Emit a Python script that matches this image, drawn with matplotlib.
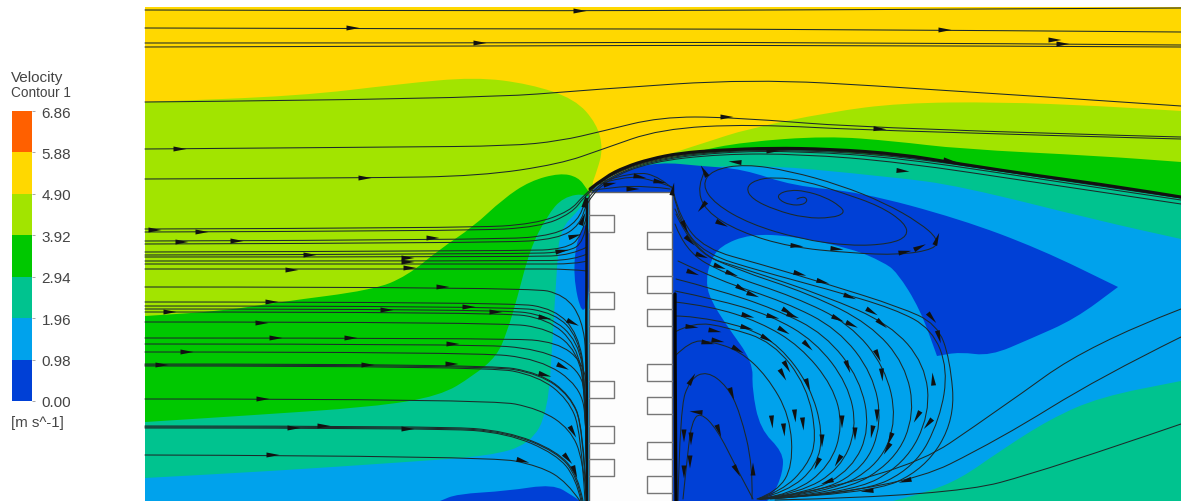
import numpy as np
import matplotlib
matplotlib.use("Agg")
import matplotlib.pyplot as plt
from matplotlib.colors import ListedColormap, BoundaryNorm
from matplotlib.path import Path
from matplotlib.patches import PathPatch, Rectangle

plt.rcParams["font.family"] = ["Liberation Sans", "DejaVu Sans"]

# legend
levels = [0.00, 0.98, 1.96, 2.94, 3.92, 4.90, 5.88, 6.86]
band_colors = ["#0040D6", "#00A2EC", "#00C38F", "#00C800", "#A2E400", "#FFD800", "#FF6000"]
DARK, LIGHT, TEAL, GREEN, LIME, YELLOW, ORANGE = band_colors

# contour bands, outlines (x, y in image pixels), drawn back to front
lime_left = [(145, 103), (300, 97), (400, 85), (475, 78), (530, 85), (575, 100), (597, 125), (603, 150),
             (597, 172), (590, 190), (600, 330), (145, 340)]
lime_right = [(593, 187), (627, 170), (660, 158), (707, 143), (747, 130), (830, 113), (900, 104), (1000, 103),
              (1100, 107), (1181, 112), (1181, 300), (640, 300)]
green_left = [(145, 317), (223, 312), (280, 303), (373, 291), (407, 277), (440, 250), (473, 228), (503, 200),
              (530, 182), (560, 174), (578, 178), (587, 190), (600, 210), (600, 502), (145, 502)]
green_right = [(630, 172), (693, 153), (743, 143), (827, 137), (893, 142), (960, 150), (1100, 157), (1181, 163),
               (1181, 260), (640, 260)]
teal_left = [(145, 423), (240, 417), (373, 408), (440, 397), (473, 377), (497, 357), (507, 333), (517, 300),
             (530, 250), (547, 217), (563, 198), (588, 194), (600, 210), (600, 502), (145, 502)]
teal_right = [(590, 190), (627, 170), (670, 158), (727, 152), (793, 149), (860, 155), (927, 160), (960, 165),
              (1040, 177), (1120, 188), (1181, 198), (1181, 260), (640, 260)]
light_left = [(145, 479), (273, 472), (407, 463), (490, 457), (530, 445), (548, 413), (553, 333), (557, 267),
              (560, 230), (580, 210), (588, 198), (600, 210), (600, 502), (145, 502)]
light_right = [(640, 180), (733, 163), (893, 178), (960, 187), (1100, 222), (1181, 240), (1181, 502), (640, 502)]
dark_sliver = [(590, 218), (577, 238), (573, 277), (582, 318), (590, 296)]
dark_bottom = [(440, 502), (457, 495), (507, 492), (553, 485), (573, 497), (580, 502)]
dark_right = [(592, 195), (592, 190), (620, 172), (660, 163), (700, 167), (743, 170), (793, 187), (860, 193),
              (960, 220), (1040, 250), (1118, 288), (1075, 320), (1030, 340), (990, 357), (960, 353), (937, 357),
              (920, 310), (897, 273), (883, 263), (853, 250), (793, 237), (750, 235), (720, 247), (710, 263),
              (706, 282), (710, 300), (727, 327), (753, 363), (752, 390), (760, 430), (783, 453), (783, 473),
              (773, 497), (767, 502), (660, 502), (660, 195)]
teal_low = [(893, 502), (927, 493), (960, 480), (1000, 452), (1050, 420), (1100, 398), (1181, 382), (1181, 502)]
band_shapes = [(lime_left, LIME), (lime_right, LIME), (green_left, GREEN), (green_right, GREEN),
               (teal_left, TEAL), (teal_right, TEAL), (light_left, LIGHT), (light_right, LIGHT),
               (dark_sliver, DARK), (dark_bottom, DARK), (dark_right, DARK), (teal_low, TEAL)]
sharp_points = [(1118, 288), (593, 187), (937, 357), (145, 317), (145, 103)]

# building, window rows
building = (589, 193, 672, 502)
windows_left = [216, 293, 327, 382, 427, 460]
windows_right = [233, 277, 310, 365, 398, 443, 477]

# streamlines over the roof
streams_top = [
    [(145, 11), (500, 12), (800, 11), (1181, 9)],
    [(145, 29), (500, 30), (800, 30), (1181, 33)],
    [(145, 44), (480, 44), (800, 43), (1181, 46)],
    [(145, 48), (480, 47), (800, 46), (1181, 48)],
    [(145, 103), (475, 100), (600, 90), (750, 80), (900, 88), (1181, 107)],
    [(145, 150), (400, 148), (510, 147), (560, 142), (603, 132), (660, 118), (730, 118), (880, 130), (1181, 138)],
    [(145, 180), (365, 179), (480, 177), (560, 165), (603, 150), (660, 130), (750, 125), (880, 132), (1181, 140)],
    [(145, 230), (470, 229), (535, 225), (570, 212), (583, 197), (605, 178), (650, 160), (720, 151), (800, 150),
     (900, 156), (1040, 177), (1181, 198)],
    [(145, 233), (470, 232), (540, 228), (572, 214), (584, 198), (606, 178), (650, 161), (720, 152), (800, 151),
     (900, 157), (1040, 178), (1181, 199)],
    [(145, 242), (500, 241), (555, 236), (578, 222), (586, 200), (607, 179), (650, 162), (720, 153), (800, 152),
     (900, 159), (1040, 180), (1181, 201)],
    [(145, 245), (500, 244), (558, 240), (580, 226), (587, 202), (608, 180), (650, 163), (720, 155), (800, 155),
     (900, 163), (1040, 184), (1181, 205)],
    [(145, 253), (520, 252), (565, 250), (582, 238), (587, 215)],
    [(145, 256), (520, 255), (568, 253), (584, 243), (587, 222)],
    [(145, 258), (530, 258), (572, 256), (587, 248)],
    [(145, 262), (530, 262), (574, 261), (587, 255)],
    [(145, 265), (530, 265), (576, 265), (587, 262)],
    [(145, 270), (520, 270), (570, 270), (587, 272)],
]

# streamlines that run into the wall and turn down
streams_wall = [
    [(145, 288), (530, 288), (565, 296), (582, 320), (587, 360), (587, 502)],
    [(145, 303), (510, 303), (555, 310), (578, 335), (586, 380), (587, 502)],
    [(145, 307), (510, 307), (555, 314), (578, 338), (586, 385), (587, 502)],
    [(145, 310), (500, 310), (550, 317), (578, 342), (586, 388), (587, 502)],
    [(145, 313), (500, 313), (548, 320), (576, 345), (586, 392), (587, 502)],
    [(145, 323), (500, 323), (550, 330), (577, 352), (586, 395), (587, 502)],
    [(145, 339), (507, 339), (557, 343), (583, 363), (588, 395), (587, 502)],
    [(145, 345), (473, 345), (540, 350), (580, 370), (587, 405), (587, 502)],
    [(145, 353), (473, 353), (540, 360), (580, 387), (587, 425), (587, 502)],
    [(145, 365), (487, 365), (540, 374), (570, 396), (583, 427), (587, 502)],
    [(145, 366), (487, 366), (540, 375), (570, 397), (583, 428), (586, 502)],
    [(145, 367), (487, 367), (538, 377), (568, 400), (581, 432), (585, 502)],
    [(145, 400), (490, 400), (540, 410), (570, 430), (583, 460), (587, 502)],
    [(145, 427), (440, 427), (507, 432), (557, 452), (578, 476), (583, 502)],
    [(145, 428), (440, 428), (507, 433), (557, 453), (577, 477), (582, 502)],
    [(145, 429), (440, 429), (507, 434), (556, 455), (576, 479), (581, 502)],
    [(145, 456), (490, 457), (540, 467), (567, 483), (580, 502)],
]

# vortex behind the building
spiral = [(797, 200), (803, 197), (808, 201), (803, 206), (790, 206), (779, 201), (778, 195), (790, 191), (805, 192),
          (825, 198), (840, 207), (845, 214), (832, 219), (805, 219), (775, 211), (752, 200), (746, 189), (755, 181),
          (775, 178), (805, 182), (840, 193), (880, 207), (905, 224), (908, 237), (890, 245), (850, 247), (800, 240),
          (750, 225), (715, 205), (702, 186), (712, 171), (745, 165), (790, 172), (840, 186), (885, 204), (920, 224),
          (938, 240), (935, 250), (900, 256), (850, 254), (790, 248), (740, 233), (705, 212), (697, 187), (705, 172)]

# arcs leeward of the building, from the wall over the peak back to the stagnation point
streams_arc = [
    [(753, 500), (737, 470), (717, 430), (700, 413), (692, 423), (688, 450), (683, 500)],
    [(752, 500), (753, 467), (740, 413), (727, 387), (707, 372), (690, 380), (680, 410), (678, 502)],
    [(757, 500), (777, 493), (793, 467), (790, 417), (767, 377), (740, 352), (710, 342), (690, 342), (675, 357)],
    [(758, 500), (782, 492), (807, 467), (817, 440), (807, 387), (773, 343), (727, 328), (693, 323), (675, 333)],
    [(758, 500), (787, 493), (817, 467), (823, 433), (810, 387), (780, 347), (747, 328), (693, 317), (675, 317)],
    [(759, 500), (793, 495), (830, 467), (843, 427), (833, 387), (800, 347), (760, 323), (710, 307), (675, 303)],
    [(760, 500), (800, 494), (840, 470), (857, 430), (848, 385), (815, 342), (770, 316), (715, 300), (675, 292)],
    [(760, 500), (810, 494), (852, 470), (870, 430), (860, 380), (825, 335), (775, 310), (715, 290), (676, 280)],
    [(760, 500), (820, 494), (865, 468), (882, 425), (873, 375), (838, 330), (785, 303), (720, 282), (678, 262)],
    [(760, 500), (830, 494), (880, 465), (897, 420), (885, 368), (850, 325), (795, 298), (725, 275), (685, 252),
     (675, 225)],
    [(760, 500), (840, 495), (895, 462), (915, 415), (905, 365), (870, 325), (810, 295), (735, 270), (692, 250),
     (676, 215)],
    [(760, 500), (850, 495), (905, 465), (930, 415), (925, 365), (890, 325), (825, 297), (745, 270), (695, 255),
     (675, 210)],
    [(760, 500), (860, 495), (915, 468), (940, 420), (948, 370), (932, 330), (895, 310), (827, 290), (760, 272),
     (705, 255), (680, 225), (673, 193)],
    [(760, 500), (870, 495), (925, 470), (955, 420), (950, 360), (937, 325), (900, 308), (827, 285), (760, 265),
     (705, 250), (680, 220), (674, 195)],
]
streams_far = [
    [(765, 500), (900, 478), (1000, 410), (1090, 345), (1181, 310)],
    [(770, 500), (900, 490), (1000, 440), (1100, 378), (1181, 338)],
    [(775, 501), (950, 497), (1050, 470), (1181, 425)],
]
streams_roof = [
    [(590, 192), (610, 188), (650, 187), (670, 190)],
    [(595, 186), (625, 177), (650, 180), (672, 188)],
    [(600, 183), (635, 172), (660, 178), (673, 190)],
]
# wall layers where the lines pile up
wall_left = [(587, 200), (586, 300), (587, 400), (587, 502)]
wall_right = [(675, 295), (675, 400), (676, 502)]
roof_layer = [(590, 190), (605, 178), (625, 168), (650, 160), (680, 154), (720, 151), (770, 149), (830, 150),
              (900, 155), (960, 165), (1040, 177), (1120, 188), (1181, 198)]

# arrowheads: x, y, screen angle in degrees
arrows = [
    (580, 12, 0), (353, 29, 0), (480, 44, 0), (945, 31, 0), (1055, 41, 0), (1063, 45, 0), (180, 150, 0),
    (365, 179, 0), (727, 118, 0), (880, 130, -3),
    (155, 231, 0), (202, 233, 0), (182, 243, 0), (237, 242, 0), (433, 239, 0), (310, 256, 0), (408, 259, 0),
    (408, 263, 0), (410, 269, 0), (292, 271, 0), (443, 288, 0), (272, 303, 0), (170, 313, 0), (387, 311, 0),
    (469, 308, 0), (496, 313, 0), (545, 319, -10), (573, 324, -25), (262, 324, 0), (276, 339, 0), (351, 339, 0),
    (453, 345, 0), (187, 353, 0), (162, 366, 0), (368, 366, 0), (452, 365, 0), (563, 368, -25), (545, 376, -15),
    (263, 400, 0), (294, 429, 0), (324, 427, 0), (408, 430, 0), (573, 433, -60), (273, 456, 0), (523, 462, -15),
    (568, 460, -50), (575, 473, -70), (583, 220, 70), (575, 237, 15), (562, 252, 10), (585, 202, 80),
    (748, 317, -15), (773, 318, -15), (788, 313, -30), (793, 317, -20), (838, 320, -25), (852, 326, -25),
    (872, 313, -30), (882, 325, -40), (932, 319, -50), (939, 338, -75), (784, 332, -30), (808, 347, -45),
    (767, 340, -30), (747, 329, -15), (715, 332, -10), (692, 328, -5), (708, 344, -10), (738, 351, -30),
    (718, 342, -10), (878, 357, -65), (848, 368, -70), (787, 368, -60), (783, 376, -60), (808, 386, -70),
    (882, 376, -85), (933, 380, 95), (732, 395, -70), (692, 380, 60), (696, 413, 175), (719, 432, -70),
    (737, 472, -60), (753, 470, 90), (690, 463, -90), (684, 473, -90), (691, 440, -90), (684, 437, -90),
    (772, 423, -85), (784, 431, -85), (795, 417, -85), (803, 425, -85), (822, 442, -90), (842, 423, -90),
    (855, 435, -90), (872, 433, -100), (877, 417, -90), (890, 440, -110), (887, 450, -120), (917, 418, -120),
    (928, 425, -130), (817, 465, -115), (838, 462, -120), (827, 483, -160), (867, 492, -175), (905, 482, -165),
    (735, 163, 175), (773, 152, 0), (903, 172, -5), (950, 162, -10), (704, 172, 120), (702, 208, -130),
    (722, 225, -25), (797, 247, -5), (837, 250, -5), (905, 253, 10), (920, 248, 25), (937, 240, 70),
    (685, 228, -65), (690, 242, -45), (702, 257, -20), (720, 268, -20), (732, 275, -20), (800, 275, -15),
    (823, 283, -15), (693, 274, -20), (742, 290, -30), (753, 296, -20), (850, 298, -20),
    (640, 178, -10), (660, 183, -10), (610, 185, 10), (633, 190, 0), (673, 190, 80),
]


def smooth_path(points):
    # quadratic pieces through the midpoints, the listed points act as control points
    pts = np.array(points, dtype=float)
    verts = [pts[0]]
    codes = [Path.MOVETO]
    for i in range(1, len(pts) - 1):
        end = pts[i + 1] if i == len(pts) - 2 else (pts[i] + pts[i + 1]) / 2
        verts += [pts[i], end]
        codes += [Path.CURVE3, Path.CURVE3]
    if len(pts) == 2:
        verts.append(pts[1])
        codes.append(Path.LINETO)
    return Path(verts, codes)


def band_path(shape):
    # closed version, points on the field border and the sharp tips stay as corners
    doubled = []
    for p in shape:
        doubled.append(p)
        if p[0] <= 145 or p[0] >= 1181 or p[1] >= 502 or p in sharp_points:
            doubled.append(p)
    pts = np.array(doubled, dtype=float)
    start = (pts[-1] + pts[0]) / 2
    verts = [start]
    codes = [Path.MOVETO]
    for i in range(len(pts)):
        verts += [pts[i], (pts[i] + pts[(i + 1) % len(pts)]) / 2]
        codes += [Path.CURVE3, Path.CURVE3]
    return Path(verts, codes)


def draw_stream(ax, points, width=0.75, color="#1c2a2a"):
    ax.add_patch(PathPatch(smooth_path(points), fill=False, edgecolor=color, linewidth=width,
                           capstyle="round", zorder=4))


def draw_arrow(ax, x, y, angle, length=13, base=5):
    a = np.deg2rad(angle)
    ux, uy = np.cos(a), -np.sin(a)
    nx, ny = -uy, ux
    xs = [x - ux * length / 2 + nx * base / 2, x + ux * length / 2, x - ux * length / 2 - nx * base / 2]
    ys = [y - uy * length / 2 + ny * base / 2, y + uy * length / 2, y - uy * length / 2 - ny * base / 2]
    ax.fill(xs, ys, color="#111111", linewidth=0, zorder=5)


fig = plt.figure(figsize=(11.81, 5.02), dpi=100)
ax = fig.add_axes([0, 0, 1, 1])
ax.set_xlim(0, 1181)
ax.set_ylim(502, 0)
ax.axis("off")

# field
ax.add_patch(Rectangle((145, 8), 1036, 494, facecolor=YELLOW, edgecolor="none", zorder=1))
for shape, color in band_shapes:
    ax.add_patch(PathPatch(band_path(shape), facecolor=color, edgecolor="none", zorder=2))

# building with window stubs
x0, y0, x1, y1 = building
ax.add_patch(Rectangle((x0, y0), x1 - x0, y1 - y0, facecolor="#FDFDFD", edgecolor="none", zorder=3))
ax.plot([x0, x0, x1, x1], [y1, y0, y0, y1], color="#666666", linewidth=1.0, zorder=3.2)
for y in windows_left:
    ax.plot([x0, x0 + 25, x0 + 25, x0], [y, y, y + 17, y + 17], color="#777777", linewidth=1.0, zorder=3.2)
for y in windows_right:
    ax.plot([x1, x1 - 25, x1 - 25, x1], [y, y, y + 17, y + 17], color="#777777", linewidth=1.0, zorder=3.2)

for line in streams_top + streams_wall + streams_arc + streams_far + streams_roof:
    draw_stream(ax, line)
draw_stream(ax, spiral)
draw_stream(ax, wall_left, width=1.8, color="#111111")
draw_stream(ax, wall_right, width=2.4, color="#050505")
draw_stream(ax, roof_layer, width=2.2, color="#111111")
for x, y, angle in arrows:
    draw_arrow(ax, x, y, angle)

# legend
cax = fig.add_axes([12 / 1181, 1 - 402 / 502, 20 / 1181, 290 / 502])
cmap = ListedColormap(band_colors)
cax.pcolormesh([0, 1], levels, np.arange(7).reshape(-1, 1), cmap=cmap,
               norm=BoundaryNorm(np.arange(8) - 0.5, 7))
cax.set_xticks([])
cax.yaxis.tick_right()
cax.set_yticks(levels)
cax.set_yticklabels([f"{v:.2f}" for v in levels], fontsize=11, color="#444444")
cax.tick_params(axis="y", length=2, width=0.6, color="#999999", pad=5)
for spine in cax.spines.values():
    spine.set_visible(False)

ax.text(11, 78, "Velocity", fontsize=11, color="#444444", va="center", ha="left")
ax.text(11, 93, "Contour 1", fontsize=9.8, color="#444444", va="center", ha="left")
ax.text(11, 423, "[m s^-1]", fontsize=10.8, color="#444444", va="center", ha="left")

fig.savefig("out.png", dpi=100)
